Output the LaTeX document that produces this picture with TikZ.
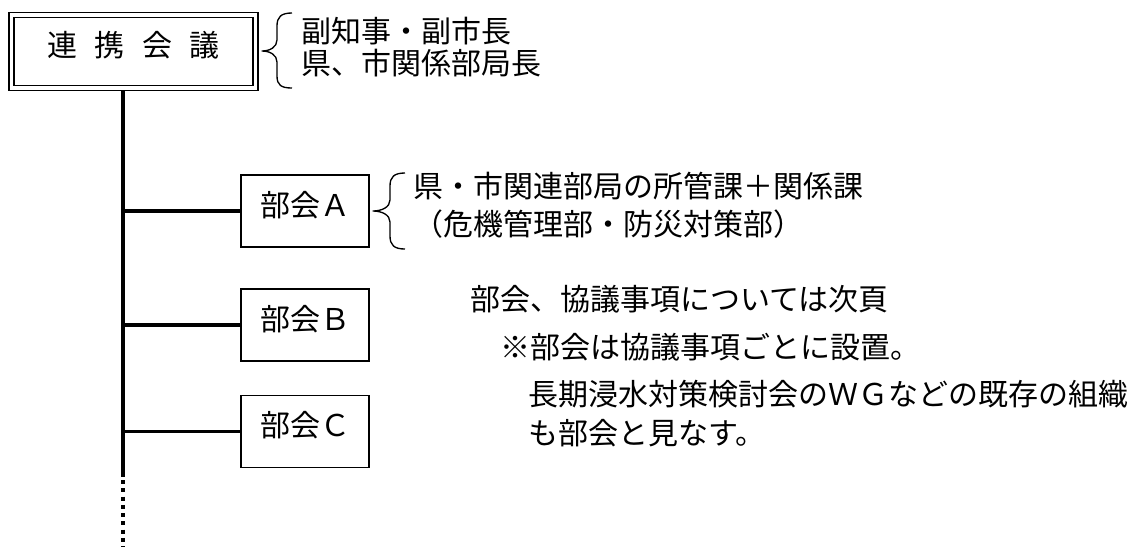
\documentclass[tikz,border=0pt]{standalone}
\usepackage{fontspec}
\setmainfont{Noto Sans CJK JP}
\usetikzlibrary{positioning,calc}

\begin{document}
\begin{tikzpicture}[
    x=0.75pt, y=-0.75pt,
    font=\fontsize{22.5pt}{27pt}\selectfont,
    kaiginode/.style={rectangle, draw, double, line width=0.9pt, double distance=2.8pt, minimum width=183pt, minimum height=55pt, text height=0.83em, text depth=0.07em},
    bukanode/.style={rectangle, draw, line width=1pt, minimum width=96pt, minimum height=54pt, text height=0.83em, text depth=0.07em},
    notetext/.style={anchor=west, inner sep=0pt, text height=0.83em, text depth=0.07em},
    trunkline/.style={line width=2.6pt},
    bracket/.style={line width=1pt, line join=round}
]
    \useasboundingbox (0,0) rectangle (1148,547);

    % Renkei kaigi
    \node[kaiginode] (kaigi) at (133.5,51.3) {連\hspace{0.57em}携\hspace{0.57em}会\hspace{0.57em}議};
    \draw[bracket] (292,13) .. controls (281,13) and (277,17) .. (277,26) -- (277,40)
        .. controls (277,47) and (270,51) .. (262,51) .. controls (270,51) and (277,55) .. (277,62)
        -- (277,76) .. controls (277,85) and (281,88) .. (292,88);
    \node[notetext] (member1) at (301,37) {副知事・副市長};
    \node[notetext] (member2) at (301,69) {県、市関係部局長};

    % Trunk line
    \coordinate (trunktop) at (123,90.5);
    \coordinate (trunkmid) at (123,477);
    \coordinate (trunkend) at (123,547);
    \draw[trunkline] (trunktop) -- (trunkmid);
    \draw[trunkline, dash pattern=on 3pt off 3.2pt] ($(trunkmid)+(0,3)$) -- (trunkend);

    % Bukai
    \node[bukanode] (bukaA) at (305,211) {部会Ａ};
    \node[bukanode] (bukaB) at (305,325) {部会Ｂ};
    \node[bukanode] (bukaC) at (305,431.5) {部会Ｃ};
    \draw[trunkline] (bukaA.west -| trunkmid) -- (bukaA.west);
    \draw[trunkline] (bukaB.west -| trunkmid) -- (bukaB.west);
    \draw[trunkline] (bukaC.west -| trunkmid) -- (bukaC.west);

    \draw[bracket] (405,173) .. controls (394,173) and (390,177) .. (390,186) -- (390,200)
        .. controls (390,207) and (382,211) .. (373,211) .. controls (382,211) and (390,215) .. (390,222)
        -- (390,236) .. controls (390,245) and (394,249) .. (405,249);
    \node[notetext] (bukaAtext1) at (413,192) {県・市関連部局の所管課＋関係課};
    \node[notetext] (bukaAtext2) at (413,230) {（危機管理部・防災対策部）};

    % Notes
    \node[notetext] (note1) at (470,305) {部会、協議事項については次頁};
    \node[notetext] (note2) at (500,353) {※部会は協議事項ごとに設置。};
    \node[notetext] (note3) at (528,400) {長期浸水対策検討会のＷＧなどの既存の組織};
    \node[notetext] (note4) at (528,439) {も部会と見なす。};
\end{tikzpicture}
\end{document}
